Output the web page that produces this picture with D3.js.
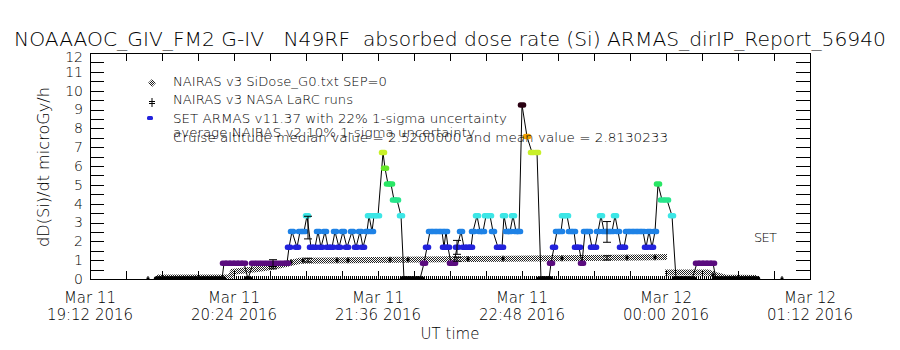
<!DOCTYPE html>
<html>
<head>
<meta charset="utf-8">
<script src="https://cdn.jsdelivr.net/npm/d3@7"></script>
<style>
body { margin: 0; background: #fff; }
text { font-family: "DejaVu Sans", sans-serif; font-weight: 200; fill: #000; white-space: pre; }
.axis line { stroke: #000; shape-rendering: crispEdges; }
.axis path { display: none; }
</style>
</head>
<body>
<div id="chart"></div>
<script>
// all times are minutes after 2016-03-11 19:12 UT
const armasMinute = [34,36,38,40,42,44,46,48,50,52,54,56,58,60,62,64,66,
	67,69,71,73,75,77,79,81.5,84,86.5,89,91.5,94,96.5,98.5,
	99.5,101,103.5,105,107,108.5,110.5,112.5,114,115.5,117.5,119,121,122.5,124.5,126.5,128.5,131,133,135,136.5,138.5,139.5,141,142,144,
	146.5,147.5,149,150.5,152,153.5,155.5,
	157,159,161,163,165,
	167,168.5,170,172,174,176,177,178,179,180.5,182,183.5,185.5,187,189,190.5,191.5,193.5,195,196.5,198,200,201.5,204,206,207,208.5,210,211.5,213,214.5,
	216,218.5,221,223.5,
	225.5,227.5,229.5,
	230.5,232,233.5,235.5,236.5,238.5,240,242,243,244.5,246,247.5,249.5,251,252.5,254,255.5,257,259,261,262.5,264,265.5,267,268.5,270.5,272.5,274.5,276.5,278,279.5,281,282.5,
	284,286,288.5,291,
	293,295,297,299,301,
	303.5,305.5,307.5,309.5,311.5,
	313,315,317,319,321,323,325,327,329,331,333]
const armasDose = [0,0,0,0,0,0,0,0,0,0,0,0,0,0,0,0,0,
	0.84,0.84,0.84,0.84,0.84,0.84,0,0.84,0.84,0.84,0.84,0.84,0.84,0.84,0.84,
	1.68,2.52,1.68,2.52,2.52,3.36,1.68,1.68,2.52,1.68,2.52,1.68,1.68,2.52,1.68,2.52,1.68,2.52,1.68,2.52,1.68,2.52,3.36,2.52,3.36,3.36,
	6.72,5.88,5.04,5.04,4.2,4.2,3.36,
	0,0,0,0,0,
	0.84,1.68,2.52,2.52,2.52,2.52,1.68,2.52,1.68,0.84,0.84,1.68,2.52,1.68,1.68,1.68,2.52,3.36,2.52,2.52,3.36,3.36,2.52,1.68,1.68,3.36,2.52,2.52,3.36,2.52,2.52,
	9.24,7.56,6.72,6.72,
	0,0,0,
	0.84,1.68,2.52,2.52,3.36,3.36,2.52,2.52,1.68,1.68,0.84,2.52,2.52,1.68,1.68,2.52,3.36,2.52,2.52,2.52,3.36,2.52,1.68,1.68,2.52,2.52,2.52,2.52,2.52,1.68,2.52,1.68,2.52,
	5.04,4.2,4.2,3.36,
	0,0,0,0,0,
	0.84,0.84,0.84,0.84,0.84,
	0,0,0,0,0,0,0,0,0,0,0]

const doseLevels  = [0, 0.84, 1.68, 2.52, 3.36, 4.2, 5.04, 5.88, 6.72, 7.56, 9.24]
const levelColours = ["#000000","#5a0c7e","#2222dc","#1e82e6","#3ce6e6","#28e68c","#28e664","#64e628","#c8f028","#f0a000","#2a0012"]

// NAIRAS v3 SiDose_G0 (null = gap)
const nairasMinute = [33.5,70,71.5,81.5,91.5,99,105,155,190,235,275,288.5, 288.5, 287.5,309,312.5,317.5,333.5]
const nairasDose   = [0.08,0.08,0.38,0.5,0.65,0.82,0.97,1.02,1.06,1.1,1.14,1.17, null, 0.35,0.35,0.22,0.08,0.05]

// NAIRAS v3 NASA LaRC runs
const larcMinute = [29,100.5,106.5,123.5,129,150,159,189,206.5,236,268.5,282.5,311.5,346]
const larcDose   = [0,0.9,0.98,1.0,1.0,1.02,1.03,1.06,1.08,1.1,1.13,1.15,0.2,0]

// uncertainty bars
const errMinute = [91.5,109,183.5,258.5]
const errArmas  = [0.84,2.73,1.68,2.5]
const errNairas = [0.6,1.0,1.05,1.12]

const groundTraceMinute = [33,335]

const legendLabels = ["NAIRAS v3 SiDose_G0.txt SEP=0", "NAIRAS v3 NASA LaRC runs",
	"SET ARMAS v11.37 with 22% 1-sigma uncertainty", "average NAIRAS v2 10% 1-sigma uncertainty",
	"Cruise altitude median value = 2.5200000 and mean value = 2.8130233"]

const t0 = Date.UTC(2016, 2, 11, 19, 12)
const toDate = m => new Date(t0 + m * 60000)

const svg = d3.select("#chart").append("svg")
	.attr("width", 900).attr("height", 350)

const x = d3.scaleUtc().domain([toDate(0), toDate(360)]).range([90, 810])
const y = d3.scaleLinear().domain([0, 12]).range([279, 53])
const colour = d3.scaleOrdinal(doseLevels, levelColours)

svg.append("defs").append("clipPath").attr("id", "plotclip")
	.append("rect").attr("x", 90).attr("y", 53).attr("width", 720).attr("height", 226)

const dither = svg.select("defs").append("pattern")
	.attr("id", "dither").attr("patternUnits", "userSpaceOnUse")
	.attr("width", 2).attr("height", 2)
dither.append("rect").attr("width", 2).attr("height", 2).attr("fill", "#fff")
dither.append("rect").attr("width", 1).attr("height", 1).attr("fill", "#222")
dither.append("rect").attr("x", 1).attr("y", 1).attr("width", 1).attr("height", 1).attr("fill", "#222")

let g = svg.append("g").attr("clip-path", "url(#plotclip)")

// dense ground trace
g.append("path")
	.attr("d", d3.line()([[x(toDate(groundTraceMinute[0])), y(0) - 1.5], [x(toDate(groundTraceMinute[1])), y(0) - 1.5]]))
	.attr("stroke", "#000").attr("stroke-width", 3).attr("stroke-dasharray", "1,1")

// NAIRAS band
const nairas = nairasMinute.map((m, i) => ({t: toDate(m), v: nairasDose[i]}))
g.append("path")
	.datum(nairas)
	.attr("fill", "none")
	.attr("stroke", "url(#dither)")
	.attr("stroke-width", 6)
	.attr("d", d3.line().defined(d => d.v !== null).x(d => x(d.t)).y(d => y(d.v)))

// LaRC runs
const larc = larcMinute.map((m, i) => ({t: toDate(m), v: larcDose[i]}))
g.selectAll("rect.larc").data(larc).join("rect")
	.attr("class", "larc")
	.attr("x", d => x(d.t) - 1.5).attr("y", d => y(d.v) - 1.5)
	.attr("width", 3).attr("height", 3).attr("fill", "#000")
g.selectAll("line.larc").data(larc).join("line")
	.attr("class", "larc")
	.attr("x1", d => x(d.t)).attr("x2", d => x(d.t))
	.attr("y1", d => y(d.v) - 3).attr("y2", d => y(d.v) + 3)
	.attr("stroke", "#000")

// ARMAS
const armas = armasMinute.map((m, i) => ({t: toDate(m), v: armasDose[i]}))
g.append("path")
	.datum(armas)
	.attr("fill", "none")
	.attr("stroke", "#000")
	.attr("stroke-width", 1)
	.attr("d", d3.line().x(d => x(d.t)).y(d => y(d.v)))
g.selectAll("rect.armas").data(armas).join("rect")
	.attr("class", "armas")
	.attr("x", d => x(d.t) - 4.25).attr("y", d => y(d.v) - 2.75)
	.attr("width", 8.5).attr("height", 5.5).attr("rx", 2.5)
	.attr("fill", d => colour(d.v))

// error bars
const errs = []
errMinute.forEach((m, i) => {
	errs.push({t: toDate(m), lo: errArmas[i] * 0.78, hi: errArmas[i] * 1.22})
	errs.push({t: toDate(m), lo: errNairas[i] * 0.9, hi: errNairas[i] * 1.1})
})
const eb = g.selectAll("g.err").data(errs).join("g").attr("class", "err")
	.attr("stroke", "#000").attr("stroke-width", 1)
eb.append("line").attr("x1", d => x(d.t)).attr("x2", d => x(d.t))
	.attr("y1", d => y(d.lo)).attr("y2", d => y(d.hi))
eb.append("line").attr("x1", d => x(d.t) - 4).attr("x2", d => x(d.t) + 4)
	.attr("y1", d => y(d.lo)).attr("y2", d => y(d.lo))
eb.append("line").attr("x1", d => x(d.t) - 4).attr("x2", d => x(d.t) + 4)
	.attr("y1", d => y(d.hi)).attr("y2", d => y(d.hi))

// axes
const yTicks = d3.range(0, 12.01, 0.5)
svg.append("g").attr("class", "axis").attr("transform", "translate(90,0)")
	.call(d3.axisLeft(y).tickValues(yTicks).tickSize(-14).tickPadding(7)
		.tickFormat(d => Number.isInteger(d) ? d : ""))
	.selectAll("text").attr("font-size", 14).style("font-family", null)
	.attr("dy", d => d === 12 ? "0.6em" : "0.32em")
svg.append("g").attr("class", "axis").attr("transform", "translate(810,0)")
	.call(d3.axisRight(y).tickValues(yTicks).tickSize(-14).tickFormat(""))

const xTicks = d3.range(0, 361, 18).map(toDate)
svg.append("g").attr("class", "axis").attr("transform", "translate(0,279)")
	.call(d3.axisBottom(x).tickValues(xTicks).tickSize(-8).tickFormat(""))
svg.append("g").attr("class", "axis").attr("transform", "translate(0,53)")
	.call(d3.axisTop(x).tickValues(xTicks).tickSize(-8).tickFormat(""))

const labelTicks = xTicks.filter((d, i) => i % 4 === 0)
const xl = svg.append("g").selectAll("g").data(labelTicks).join("g")
	.attr("transform", d => "translate(" + x(d) + ",0)")
xl.append("text").attr("y", 303).attr("text-anchor", "middle").attr("font-size", 15)
	.text(d3.utcFormat("%b %d"))
xl.append("text").attr("y", 320).attr("text-anchor", "middle").attr("font-size", 15)
	.text(d3.utcFormat("%H:%M %Y"))

// frame
svg.append("rect").attr("x", 90.5).attr("y", 53.5).attr("width", 720).attr("height", 226)
	.attr("fill", "none").attr("stroke", "#000")

// titles
svg.append("text").attr("x", 14).attr("y", 45.5).attr("font-size", 19)
	.attr("textLength", 872).attr("lengthAdjust", "spacingAndGlyphs")
	.text("NOAAAOC_GIV_FM2 G-IV   N49RF  absorbed dose rate (Si) ARMAS_dirIP_Report_56940")
svg.append("text").attr("x", 450).attr("y", 339).attr("font-size", 15).attr("text-anchor", "middle")
	.text("UT time")
svg.append("text").attr("transform", "translate(49,167) rotate(-90)")
	.attr("font-size", 15).attr("text-anchor", "middle")
	.attr("textLength", 160).attr("lengthAdjust", "spacingAndGlyphs")
	.text("dD(Si)/dt microGy/h")
svg.append("text").attr("x", 754).attr("y", 242).attr("font-size", 13)
	.attr("textLength", 23).text("SET")

// legend
const legendY = [85.5, 104, 123, 136.5, 141.7]
const legendW = [214, 180, 334, 302, 495]
svg.append("g").selectAll("text").data(legendLabels).join("text")
	.attr("x", 173).attr("y", (d, i) => legendY[i])
	.attr("font-size", 13)
	.attr("textLength", (d, i) => legendW[i]).attr("lengthAdjust", "spacingAndGlyphs")
	.text(d => d)
svg.append("path").attr("d", "M152,79 L156,83 L152,87 L148,83 Z").attr("fill", "url(#dither)")
svg.append("path").attr("d", "M152,98 V107 M149,101.5 H155 M149,103.5 H155")
	.attr("stroke", "#000").attr("fill", "none")
svg.append("rect").attr("x", 147).attr("y", 116).attr("width", 6).attr("height", 4).attr("rx", 1.5)
	.attr("fill", colour(1.68))
</script>
</body>
</html>
